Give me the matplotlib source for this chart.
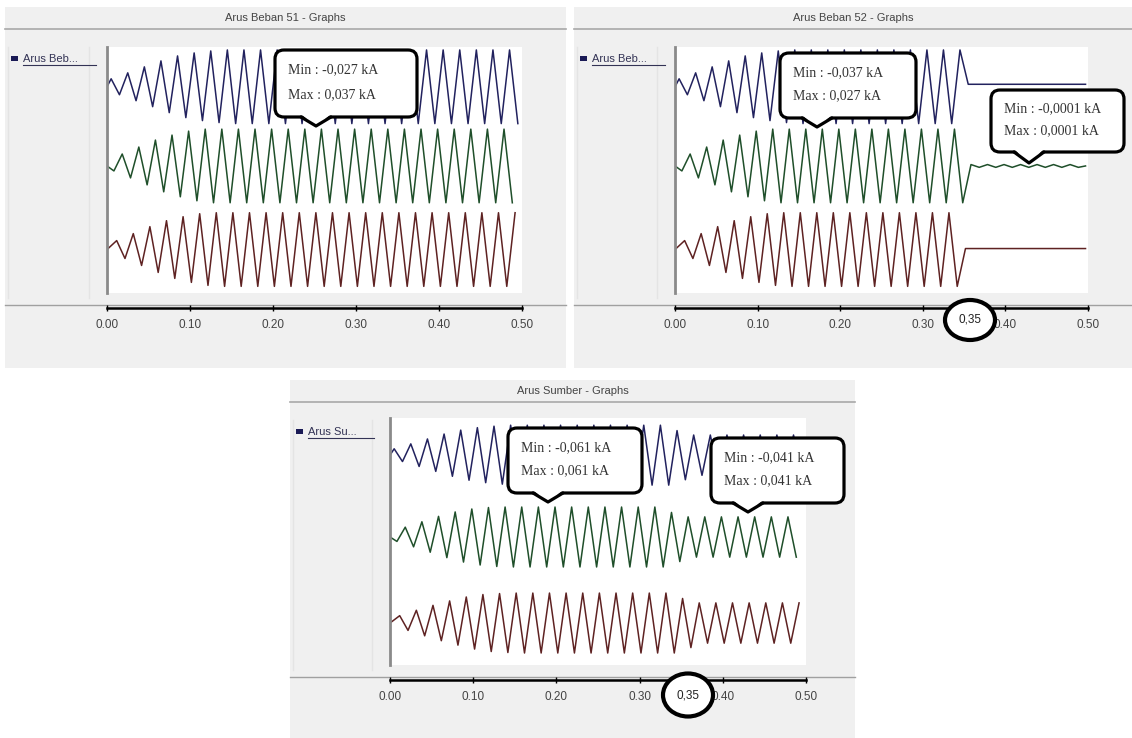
import numpy as np
import matplotlib.pyplot as plt
from matplotlib.patches import FancyBboxPatch, Polygon, Ellipse, Rectangle

W, H = 1132, 738

# ---- data (kA), amplitudo puncak per siklus 50 Hz ----
periode = 0.02
fasa = [0.0, -1 / 3, 1 / 3]
waktu_ticks = [0.0, 0.1, 0.2, 0.3, 0.4, 0.5]
waktu_labels = ['0.00', '0.10', '0.20', '0.30', '0.40', '0.50']

naik_a = [0.008, 0.014, 0.020, 0.026, 0.031, 0.034, 0.036]
naik_b = [0.005, 0.012, 0.019, 0.026, 0.031, 0.035, 0.037]
naik_c = [0.009, 0.016, 0.023, 0.029, 0.033, 0.036, 0.037]

beban51 = [naik_a + [0.037] * 18,
           naik_b + [0.037] * 18,
           naik_c + [0.037] * 18]

beban52 = [naik_a + [0.037] * 18,
           naik_b + [0.037] * 18,
           naik_c + [0.037] * 18]
beban52_putus = 0.35
beban52_sisa_dc = [0.0025, 0.0, 0.0010]
beban52_sisa_amp = [0.0, 0.0014, 0.0]

sumber = [[0.013, 0.023, 0.033, 0.043, 0.051, 0.056, 0.059] + [0.061] * 10 + [0.050] + [0.041] * 7,
          [0.009, 0.020, 0.031, 0.042, 0.051, 0.057, 0.060] + [0.061] * 10 + [0.050] + [0.041] * 7,
          [0.015, 0.026, 0.036, 0.045, 0.053, 0.058, 0.060] + [0.061] * 10 + [0.050] + [0.041] * 7]

warna = ['#22225e', '#1f4f2a', '#5e2222']


def gelombang(env, ph, t_putus=None, dc=0.0, amp=0.0):
    t, y = [0.0], [0.0]
    for k, a in enumerate(env):
        for frac, s in ((0.25, 1), (0.75, -1)):
            tk = (k + frac + ph) * periode
            if tk <= 0 or tk >= 0.5:
                continue
            if t_putus is not None and tk >= t_putus:
                y.append(dc + s * amp)
            else:
                y.append(s * a)
            t.append(tk)
    if t_putus is not None:
        t.append(0.497)
        y.append(dc)
    return np.array(t), np.array(y)


fig = plt.figure(figsize=(W / 100, H / 100), dpi=100)
fig.patch.set_facecolor('white')

bg = fig.add_axes([0, 0, 1, 1], zorder=0)
bg.set_xlim(0, W)
bg.set_ylim(H, 0)
bg.axis('off')

ov = fig.add_axes([0, 0, 1, 1], zorder=5)
ov.set_xlim(0, W)
ov.set_ylim(H, 0)
ov.axis('off')
ov.patch.set_alpha(0)


def panel(x0, y0, x1, y1, judul, legenda, area, data, skala, pusat, ylim,
          putus=None, sisa_dc=None, sisa_amp=None):
    bg.add_patch(Rectangle((x0, y0), x1 - x0, y1 - y0, fc='#f0f0f0', ec='none'))
    bg.text((x0 + x1) / 2, y0 + 11, judul, ha='center', va='center',
            fontsize=8, color='#444444', family='Liberation Sans')
    bg.plot([x0, x1], [y0 + 22, y0 + 22], color='#a8a8a8', lw=1.2)
    bg.plot([x0, x1], [area[3] + 12, area[3] + 12], color='#a0a0a0', lw=1.0)
    # kotak legenda
    bg.plot([x0 + 3, x0 + 3], [y0 + 40, area[3] + 5], color='#e4e4e4', lw=1)
    bg.plot([area[0] - 18, area[0] - 18], [y0 + 40, area[3] + 5], color='#e4e4e4', lw=1)
    bg.add_patch(Rectangle((x0 + 6, y0 + 49), 7, 5, fc='#1a1a55', ec='none'))
    bg.text(x0 + 18, y0 + 52, legenda, ha='left', va='center', fontsize=8,
            color='#333355', family='Liberation Sans')
    bg.plot([x0 + 18, x0 + 18 + 6.6 * len(legenda)], [y0 + 58, y0 + 58], color='#333355', lw=0.8)

    ax = fig.add_axes([area[0] / W, 1 - area[3] / H, (area[2] - area[0]) / W,
                       (area[3] - area[1]) / H], zorder=1)
    ax.set_facecolor('white')
    for i in range(3):
        if putus is None:
            t, y = gelombang(data[i], fasa[i])
        else:
            t, y = gelombang(data[i], fasa[i], putus, sisa_dc[i], sisa_amp[i])
        ax.plot(t, y / skala + pusat[i], color=warna[i], lw=1.1)
    ax.set_xlim(0, 0.5)
    ax.set_ylim(*ylim)
    ax.set_yticks([])
    ax.spines['top'].set_visible(False)
    ax.spines['right'].set_visible(False)
    ax.spines['left'].set_color('#8a8a8a')
    ax.spines['left'].set_linewidth(2)
    ax.spines['bottom'].set_position(('outward', 11))
    ax.spines['bottom'].set_linewidth(1.8)
    ax.set_xticks(waktu_ticks, waktu_labels)
    ax.tick_params(axis='x', direction='inout', length=5, width=1, pad=5,
                   labelsize=8.5, labelcolor='#444444')
    for lab in ax.get_xticklabels():
        lab.set_family('Liberation Sans')
    return ax


def callout(x0, y0, x1, y1, tip, baris):
    ov.add_patch(FancyBboxPatch((x0, y0), x1 - x0, y1 - y0,
                                boxstyle='round,pad=0,rounding_size=9',
                                fc='white', ec='black', lw=2.3, zorder=6))
    tx, ty = tip
    ov.add_patch(Polygon([(tx - 14, y1 - 2), (tx + 14, y1 - 2), (tx, ty)],
                         closed=True, fc='white', ec='none', zorder=7))
    ov.plot([tx - 15, tx, tx + 15], [y1, ty, y1], color='black', lw=2.3,
            zorder=8, solid_capstyle='round')
    tinggi = y1 - y0
    for j, s in enumerate(baris):
        ov.text(x0 + 13, y0 + tinggi * (0.3 + 0.36 * j), s, ha='left', va='center',
                fontsize=10, color='#333333', family='Liberation Serif', zorder=9)


def lingkaran(cx, cy, w, h, teks):
    ov.add_patch(Ellipse((cx, cy), w, h, fc='white', ec='black', lw=3, zorder=6))
    ov.text(cx, cy, teks, ha='center', va='center', fontsize=8.5,
            color='#222222', family='Liberation Sans', zorder=7)


panel(5, 7, 566, 368, 'Arus Beban 51 - Graphs', 'Arus Beb...',
      (107, 47, 522, 293), beban51, 0.037, [2.15, 0.0, -2.27], (-3.45, 3.23))
panel(574, 7, 1132, 368, 'Arus Beban 52 - Graphs', 'Arus Beb...',
      (675, 47, 1088, 293), beban52, 0.037, [2.15, 0.0, -2.27], (-3.45, 3.23),
      beban52_putus, beban52_sisa_dc, beban52_sisa_amp)
panel(290, 380, 855, 738, 'Arus Sumber - Graphs', 'Arus Su...',
      (390, 418, 806, 665), sumber, 0.061, [2.73, 0.0, -2.87], (-4.27, 3.97))

callout(275, 50, 417, 117, (316, 126), ['Min : -0,027 kA', 'Max : 0,037 kA'])
callout(780, 53, 916, 118, (817, 127), ['Min : -0,037 kA', 'Max : 0,027 kA'])
callout(991, 90, 1124, 152, (1029, 163), ['Min : -0,0001 kA', 'Max : 0,0001 kA'])
callout(508, 428, 642, 493, (548, 502), ['Min : -0,061 kA', 'Max : 0,061 kA'])
callout(711, 438, 844, 503, (748, 512), ['Min : -0,041 kA', 'Max : 0,041 kA'])

lingkaran(970, 320, 50, 40, '0,35')
lingkaran(688, 695, 50, 43, '0,35')

fig.savefig('out.png', dpi=100)
